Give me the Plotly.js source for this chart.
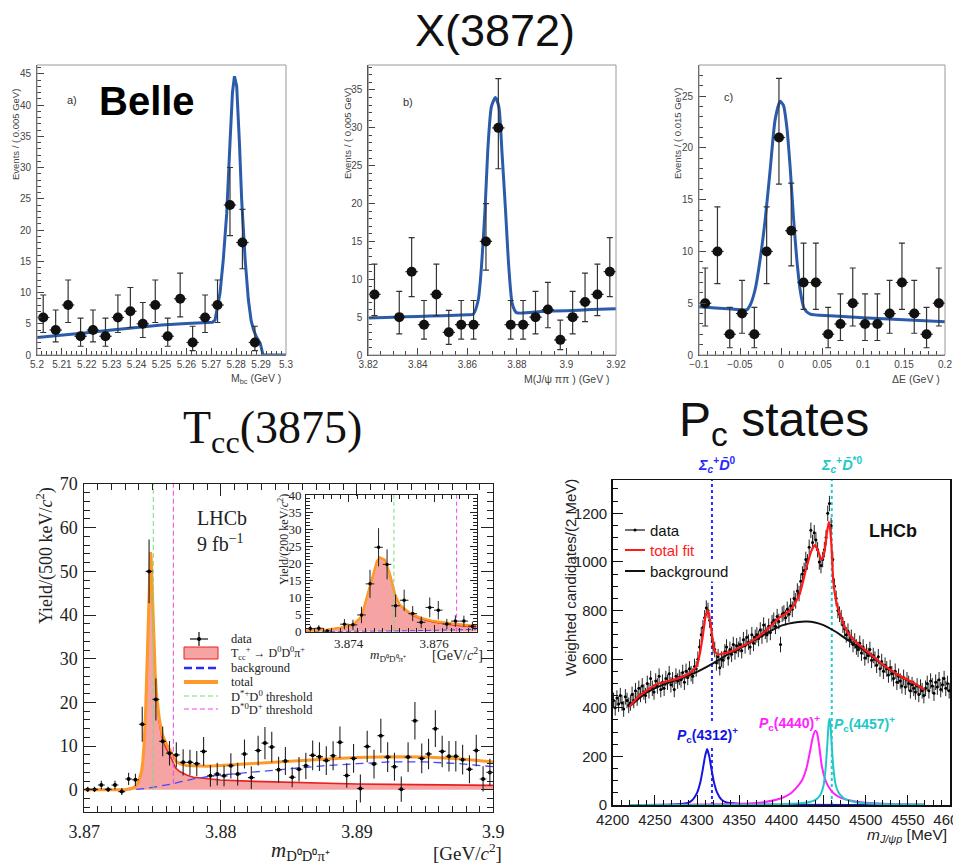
<!DOCTYPE html>
<html><head><meta charset="utf-8">
<script src="https://cdn.plot.ly/plotly-3.0.1.min.js"></script>
<style>html,body{margin:0;padding:0;background:#fff}#chart{width:953px;height:863px}</style>
</head><body><div id="chart"></div>
<script>
// ---------------- Belle panel a) Mbc ----------------
const aX=[5.2025,5.2075,5.2125,5.2175,5.2225,5.2275,5.2325,5.2375,5.2425,5.2475,5.2525,5.2575,5.2625,5.2675,5.2725,5.2775,5.2825,5.2875];
const aY=[6,4,8,3,4,3,6,7,5,8,3,9,2,6,8,24,18,2];
const aHi=[3.6,3.2,4.0,2.9,3.2,2.9,3.6,3.8,3.4,4.0,2.9,4.1,2.6,3.6,4.0,6.0,5.3,2.6];
const aLo=[2.4,1.9,2.8,1.6,1.9,1.6,2.4,2.6,2.2,2.8,1.6,2.9,1.3,2.4,2.8,4.9,4.2,1.3];
const aFitX=[5.200,5.210,5.220,5.230,5.240,5.250,5.260,5.2705,5.2715,5.2725,5.2735,5.2748,5.2762,5.2775,5.2785,5.2793,5.2802,5.2813,5.2822,5.2836,5.2849,5.2860,5.2870,5.2880,5.2889,5.2897,5.2903,5.2908,5.300];
const aFitY=[2.8,3.15,3.55,4.0,4.45,4.8,5.05,5.25,5.6,7.5,9.9,15.2,22.7,33.9,42,44.6,43,33.9,24.8,15.2,8.8,5.5,4.0,3.0,2.4,1.8,0.8,0,0];

// ---------------- Belle panel b) M(J/psi pi pi) ----------------
const bX=[3.8225,3.8325,3.8375,3.8425,3.8475,3.8525,3.8575,3.8625,3.8675,3.8725,3.8775,3.8825,3.8875,3.8925,3.8975,3.9025,3.9075,3.9125,3.9175];
const bY=[8,5,11,4,8,3,4,4,15,30,4,4,5,6,2,5,7,8,11];
const bHi=[4.0,3.4,4.5,3.2,4.0,2.9,3.2,3.2,5.0,6.5,3.2,3.2,3.4,3.6,2.6,3.4,3.8,4.0,4.5];
const bLo=[2.8,2.2,3.3,1.9,2.8,1.6,1.9,1.9,3.8,5.4,1.9,1.9,2.2,2.4,1.3,2.2,2.6,2.8,3.3];
const bFitX=[3.820,3.830,3.840,3.850,3.860,3.8624,3.8644,3.8657,3.8671,3.8684,3.8697,3.8713,3.8727,3.8740,3.8754,3.8767,3.8781,3.8798,3.890,3.900,3.910,3.920];
const bFitY=[4.9,5.0,5.1,5.2,5.3,5.4,7.3,11.7,19.1,27.9,32.8,34.0,32.8,26.6,19.1,11.7,6.8,5.6,5.75,5.85,6.0,6.1];

// ---------------- Belle panel c) Delta E ----------------
const cX=[-0.0925,-0.0775,-0.0625,-0.0475,-0.0325,-0.0175,-0.0025,0.0125,0.0275,0.0425,0.0575,0.0725,0.0875,0.1025,0.1175,0.1325,0.1475,0.1625,0.1775,0.1925];
const cY=[5,10,2,4,2,10,21,12,7,7,2,3,5,3,3,4,7,4,2,5];
const cHi=[3.4,4.3,2.6,3.2,2.6,4.3,5.7,4.6,3.8,3.8,2.6,2.9,3.4,2.9,2.9,3.2,3.8,3.2,2.6,3.4];
const cLo=[2.2,3.1,1.3,1.9,1.3,3.1,4.5,3.4,2.6,2.6,1.3,1.6,2.2,1.6,1.6,1.9,2.6,1.9,1.3,2.2];
const cFitX=[-0.100,-0.080,-0.060,-0.045,-0.0418,-0.0377,-0.0316,-0.0255,-0.0194,-0.0133,-0.0072,-0.0011,0.0030,0.0071,0.0111,0.0152,0.0193,0.0233,0.0282,0.0356,0.060,0.100,0.150,0.200];
const cFitY=[4.65,4.55,4.45,4.35,4.35,4.8,6.3,9.2,13.0,17.8,22.7,24.5,24.1,22.0,18.2,13.3,9.2,6.3,4.5,3.95,3.8,3.6,3.4,3.2];

// ---------------- LHCb Tcc main ----------------
const tX=[3.87025,3.87075,3.87125,3.87175,3.87225,3.87275,3.87325,3.87375,3.87425,3.87475,
3.87525,3.87575,3.87625,3.87675,3.87725,3.87775,3.87825,3.87875,3.87925,3.87975,
3.88025,3.88075,3.88125,3.88175,3.88225,3.88275,3.88325,3.88375,3.88425,3.88475,
3.88525,3.88575,3.88625,3.88675,3.88725,3.88775,3.88825,3.88875,3.88925,3.88975,
3.89025,3.89075,3.89125,3.89175,3.89225,3.89275,3.89325,3.89375,3.89425,3.89475,
3.89525,3.89575,3.89625,3.89675,3.89725,3.89775,3.89825,3.89875,3.89925,3.89975];
const tY=[0.1,0.1,1.1,0.1,1.1,-0.4,2.5,2.3,15.0,50.0,
20.7,11.1,8.4,8.0,6.3,6.3,6.0,8.8,3.2,3.6,
3.2,5.5,3.6,8.2,2.8,9.0,10.7,9.8,4.6,6.6,
2.9,4.7,5.5,7.9,7.6,6.7,7.8,10.9,3.3,7.2,
0.3,9.9,5.9,12.4,7.5,5.3,0.15,7.5,15.8,7.2,
8.2,14.0,8.8,7.7,7.7,6.9,4.7,9.0,2.5,4.0];
const tErr=[0.6,0.6,1.0,0.6,1.0,0.8,1.4,1.4,4.0,7.3,
4.8,3.4,2.8,2.9,3.0,2.9,2.9,3.3,2.5,2.6,
2.4,2.9,2.6,3.3,2.6,3.4,3.7,3.5,3.0,3.2,
2.3,2.8,3.0,3.4,3.3,3.3,3.3,3.6,2.8,3.3,
3.2,3.6,3.3,3.9,3.4,3.2,2.9,3.4,4.3,3.4,
3.5,4.2,3.6,3.5,3.5,3.4,3.2,3.6,2.9,3.1];
const tSigX=[3.870,3.8730,3.8735,3.8738,3.8740,3.8742,3.8743,3.8744,3.8745,3.8746,3.8747,3.8748,3.87485,3.8749,3.8750,3.8751,3.8752,3.8753,3.8755,3.8757,3.8760,3.8763,3.8765,3.8767,3.8770,3.8775,3.878,3.879,3.880,3.8825,3.885,3.8875,3.890,3.8925,3.895,3.8975,3.900];
const tSigY=[0,0.05,0.3,0.8,1.8,4,6.5,11,18,28,39,49,54,53,44,33,26,21,15.5,12,9.5,7.8,6.3,5.0,4.2,3.4,2.9,2.5,2.25,1.95,1.7,1.5,1.35,1.25,1.15,1.08,1.02];
const tBgX=[3.870,3.8735,3.8745,3.8755,3.8765,3.877,3.878,3.879,3.880,3.8825,3.885,3.8875,3.890,3.8925,3.895,3.8975,3.900];
const tBgY=[0,0.05,0.3,0.8,1.4,1.8,2.5,3.0,3.4,4.1,4.8,5.5,6.0,6.4,6.4,6.0,5.3];
const tTotX=[3.870,3.8730,3.8735,3.8738,3.8740,3.8742,3.8743,3.8744,3.8745,3.8746,3.8747,3.8748,3.87485,3.8749,3.8750,3.8751,3.8752,3.8753,3.8755,3.8757,3.8760,3.8763,3.8765,3.8767,3.8770,3.8775,3.878,3.879,3.880,3.8825,3.885,3.8875,3.890,3.8925,3.895,3.8975,3.900];
const tTotY=[0,0.05,0.35,0.9,2,4.2,6.8,11.3,18.3,28.3,39.4,49.4,54.4,53.5,44.5,33.6,26.6,21.7,16.3,12.9,10.6,9.0,7.7,6.6,6.0,5.6,5.5,5.4,5.6,6.1,6.6,7.0,7.4,7.6,7.5,7.1,6.4];
const thrDstpD0=3.87506, thrDst0Dp=3.87653;

// ---------------- LHCb Tcc inset ----------------
const iX=[3.8731,3.8733,3.8735,3.8739,3.8741,3.8743,3.8745,3.8747,3.8749,3.8751,3.8753,3.8755,3.8757,3.8759,3.8761,3.8763,3.8765,3.8767,3.8769];
const iY=[0.9,1.0,0.2,2.2,2.0,4.9,14.0,24.7,19.7,7.6,9.2,5.3,2.75,7.1,6.3,2.25,3.1,3.1,1.6];
const iErr=[0.9,0.9,0.5,1.5,1.5,2.4,4.1,5.6,4.4,3.3,3.1,2.2,1.7,2.9,2.7,1.5,1.7,1.6,1.3];
const iTotX=[3.873,3.8735,3.8739,3.87411,3.8743,3.87442,3.87454,3.87466,3.87473,3.87485,3.87497,3.87509,3.8752,3.87544,3.87567,3.87598,3.87645,3.877];
const iTotY=[0.3,0.6,1.3,2.15,4.4,9.8,15.6,20.5,21.7,21.0,16.6,10.7,7.8,5.4,4.1,3.1,2.3,1.7];
const iSigX=[3.873,3.8735,3.8739,3.87411,3.8743,3.87442,3.87454,3.87466,3.87473,3.87485,3.87497,3.87509,3.8752,3.87544,3.87567,3.87598,3.87645,3.877];
const iSigY=[0.3,0.6,1.3,2.15,4.4,9.8,15.6,20.5,21.7,21.0,16.6,10.7,7.7,5.1,3.8,2.8,1.9,1.3];
const iBgX=[3.873,3.874,3.875,3.876,3.877];
const iBgY=[0,0.05,0.2,0.4,0.7];

// ---------------- LHCb Pc states ----------------
const pcX=[4201,4203,4205,4207,4209,4211,4213,4215,4217,4219,
4221,4223,4225,4227,4229,4231,4233,4235,4237,4239,
4241,4243,4245,4247,4249,4251,4253,4255,4257,4259,
4261,4263,4265,4267,4269,4271,4273,4275,4277,4279,
4281,4283,4285,4287,4289,4291,4293,4295,4297,4299,
4301,4303,4305,4307,4309,4311,4313,4315,4317,4319,
4321,4323,4325,4327,4329,4331,4333,4335,4337,4339,
4341,4343,4345,4347,4349,4351,4353,4355,4357,4359,
4361,4363,4365,4367,4369,4371,4373,4375,4377,4379,
4381,4383,4385,4387,4389,4391,4393,4395,4397,4399,
4401,4403,4405,4407,4409,4411,4413,4415,4417,4419,
4421,4423,4425,4427,4429,4431,4433,4435,4437,4439,
4441,4443,4445,4447,4449,4451,4453,4455,4457,4459,
4461,4463,4465,4467,4469,4471,4473,4475,4477,4479,
4481,4483,4485,4487,4489,4491,4493,4495,4497,4499,
4501,4503,4505,4507,4509,4511,4513,4515,4517,4519,
4521,4523,4525,4527,4529,4531,4533,4535,4537,4539,
4541,4543,4545,4547,4549,4551,4553,4555,4557,4559,
4561,4563,4565,4567,4569,4571,4573,4575,4577,4579,
4581,4583,4585,4587,4589,4591,4593,4595,4597,4599];
const pcY=[430,400,440,415,450,420,395,445,430,410,
420,455,430,470,440,480,455,490,465,450,
500,470,520,480,465,510,490,530,475,505,
480,520,505,540,495,515,475,530,510,525,
515,545,505,550,525,560,540,530,570,560,
600,650,700,730,770,810,800,760,700,655,
640,585,610,565,600,595,630,650,605,640,
620,660,630,655,640,660,635,680,655,690,
670,650,700,665,690,700,685,720,695,740,
715,700,735,710,750,760,735,775,755,660,
785,790,770,805,785,820,805,850,840,880,
870,920,950,965,1010,1000,1060,1130,1080,1120,
1090,1050,1000,985,1010,1050,1100,1200,1240,1150,
1010,900,850,800,785,770,740,725,700,715,
680,690,660,675,650,640,665,625,650,605,
630,615,640,595,615,600,575,610,560,590,
550,575,560,535,565,540,520,550,505,530,
510,490,525,485,515,500,470,495,480,465,
490,455,485,470,450,480,500,470,510,490,
460,505,485,515,475,495,520,480,500,470];
const pcErr=32;
const pcFitX=[4220,4230,4240,4250,4260,4270,4280,4290,4295,4300,4303.5,4307,4310,4313,4316.6,4319.6,4322,4325.5,4330,4341,4350,4365,4380,4398,4405,4414,4422,4430,4436,4439.8,4443,4447.6,4451,4454,4456.3,4458,4459.5,4461.5,4465.5,4469,4477,4485,4490,4500,4520,4540,4560,4570];
const pcFitY=[405,445,470,493,505,513,524,540,552,575,625,700,775,802,734,651,628,619,622,632,647,674,712,772,786,816,871,980,1049,1069,1050,1008,1040,1120,1165,1130,1063,925,830,789,720,682,666,636,579,533,496,474];
const pcBgX=[4220,4240,4260,4280,4300,4320,4340,4360,4380,4400,4420,4430,4440,4450,4460,4470,4480,4490,4500,4520,4540,4560,4570];
const pcBgY=[405,462,495,520,548,585,627,662,702,738,753,755,751,740,722,700,676,655,632,577,531,495,473];
const pc4312X=[4220,4270,4290,4295,4300,4304,4307,4309.5,4312,4314.5,4317,4320,4324,4329,4335,4360,4570];
const pc4312Y=[0,2,10,22,50,95,150,200,230,200,150,95,50,22,10,3,0];
const pc4440X=[4220,4340,4380,4400,4410,4420,4425,4430,4434,4437,4440,4442,4445,4448,4452,4456,4462,4470,4480,4500,4530,4570];
const pc4440Y=[0,4,12,28,45,80,105,154,220,275,305,300,240,160,105,75,48,30,20,9,4,2];
const pc4457X=[4220,4400,4430,4440,4446,4450,4452.5,4454.5,4456,4457,4458,4459.5,4461.5,4464,4468,4475,4490,4520,4570];
const pc4457Y=[0,3,10,20,40,80,150,250,330,355,340,260,160,90,50,25,10,4,2];
const thrScD0=4317.7, thrScDst0=4459.8;

// ---------------- helpers (positions/styles) ----------------
const W=953,H=863;
const PX=v=>v/W, PY=v=>1-v/H;
const SANS='Liberation Sans, Arial, Helvetica, sans-serif';
const SERIF='Liberation Serif, Times New Roman, serif';
const BELLEBLUE='#2b5cab';

function topX(dom,range,dtick,minor){
  return {domain:[PX(dom[0]),PX(dom[1])],range:range,dtick:dtick,tick0:range[0],ticks:'inside',ticklen:7,tickcolor:'#444',
    showline:true,linecolor:'#444',linewidth:1,showgrid:false,zeroline:false,
    tickfont:{family:SANS,size:10,color:'#444'},minor:{dtick:minor,ticks:'inside',ticklen:4,tickcolor:'#444'}};
}
function topY(dom,range){
  return {domain:[PY(dom[1]),PY(dom[0])],range:range,dtick:5,tick0:0,ticks:'inside',ticklen:7,tickcolor:'#444',
    showline:true,linecolor:'#444',linewidth:1,showgrid:false,zeroline:false,ticklabelstandoff:3,
    tickfont:{family:SANS,size:10,color:'#444'},minor:{dtick:1,ticks:'inside',ticklen:4,tickcolor:'#444'}};
}
function belle(x,y,hi,lo,fx,fy,xa,ya,hw,shape){
  return [
    {x:fx,y:fy,xaxis:xa,yaxis:ya,mode:'lines',line:{color:BELLEBLUE,width:3,shape:shape,smoothing:0.6},hoverinfo:'skip'},
    {x:x,y:y,xaxis:xa,yaxis:ya,mode:'markers',marker:{color:'#111',size:10},
     error_y:{type:'data',symmetric:false,array:hi,arrayminus:lo,color:'#333',thickness:1.2,width:3},
     error_x:{type:'constant',value:hw,color:'#333',thickness:1.2,width:0},hoverinfo:'skip'}
  ];
}

const traces=[]
  .concat(belle(aX,aY,aHi,aLo,aFitX,aFitY,'x','y',0.0025,'linear'))
  .concat(belle(bX,bY,bHi,bLo,bFitX,bFitY,'x2','y2',0.0025,'spline'))
  .concat(belle(cX,cY,cHi,cLo,cFitX,cFitY,'x3','y3',0.0075,'spline'));

// Tcc main
traces.push({x:tSigX,y:tSigY,xaxis:'x4',yaxis:'y4',mode:'lines',fill:'tozeroy',fillcolor:'rgba(243,140,140,0.8)',line:{color:'#e8201f',width:1.6}});
traces.push({x:tBgX,y:tBgY,xaxis:'x4',yaxis:'y4',mode:'lines',line:{color:'#4848ff',width:1.3,dash:'8px,5px'}});
traces.push({x:tTotX,y:tTotY,xaxis:'x4',yaxis:'y4',mode:'lines',line:{color:'#ff9a28',width:3}});
traces.push({x:[thrDstpD0,thrDstpD0],y:[0,70],xaxis:'x4',yaxis:'y4',mode:'lines',line:{color:'#77dd77',width:1,dash:'5px,3px'}});
traces.push({x:[thrDst0Dp,thrDst0Dp],y:[1.4,70],xaxis:'x4',yaxis:'y4',mode:'lines',line:{color:'#ee44ee',width:1,dash:'5px,3px'}});
traces.push({x:tX,y:tY,xaxis:'x4',yaxis:'y4',mode:'markers',marker:{color:'#000',size:4},
  error_y:{type:'data',array:tErr,color:'#222',thickness:1.1,width:0},
  error_x:{type:'constant',value:0.00025,color:'#222',thickness:1.1,width:0}});
// Tcc inset
traces.push({x:iSigX,y:iSigY,xaxis:'x5',yaxis:'y5',mode:'lines',fill:'tozeroy',fillcolor:'rgba(243,140,140,0.8)',line:{color:'#e8201f',width:1.3}});
traces.push({x:iBgX,y:iBgY,xaxis:'x5',yaxis:'y5',mode:'lines',line:{color:'#4848ff',width:1,dash:'5px,3px'}});
traces.push({x:iTotX,y:iTotY,xaxis:'x5',yaxis:'y5',mode:'lines',line:{color:'#ff9a28',width:2.5}});
traces.push({x:[thrDstpD0,thrDstpD0],y:[0,40],xaxis:'x5',yaxis:'y5',mode:'lines',line:{color:'#77dd77',width:1,dash:'4px,3px'}});
traces.push({x:[thrDst0Dp,thrDst0Dp],y:[0,40],xaxis:'x5',yaxis:'y5',mode:'lines',line:{color:'#ee44ee',width:1,dash:'4px,3px'}});
traces.push({x:iX,y:iY,xaxis:'x5',yaxis:'y5',mode:'markers',marker:{color:'#000',size:3.5},
  error_y:{type:'data',array:iErr,color:'#222',thickness:1,width:0},
  error_x:{type:'constant',value:0.0001,color:'#222',thickness:1,width:0}});
// Pc
traces.push({x:[thrScD0,thrScD0],y:[0,1337],xaxis:'x6',yaxis:'y6',mode:'lines',line:{color:'#2a2aff',width:2,dash:'dot'}});
traces.push({x:[thrScDst0,thrScDst0],y:[0,1337],xaxis:'x6',yaxis:'y6',mode:'lines',line:{color:'#22cccc',width:2,dash:'dot'}});
traces.push({x:pc4312X,y:pc4312Y,xaxis:'x6',yaxis:'y6',mode:'lines',line:{color:'#1515e0',width:2,shape:'spline',smoothing:0.5}});
traces.push({x:pc4440X,y:pc4440Y,xaxis:'x6',yaxis:'y6',mode:'lines',line:{color:'#ff22ff',width:2,shape:'spline',smoothing:0.5}});
traces.push({x:pc4457X,y:pc4457Y,xaxis:'x6',yaxis:'y6',mode:'lines',line:{color:'#22c8c8',width:2,shape:'spline',smoothing:0.5}});
traces.push({x:pcX,y:pcY,xaxis:'x6',yaxis:'y6',mode:'markers',marker:{color:'#000',size:3},
  error_y:{type:'constant',value:pcErr,color:'#222',thickness:1,width:0},
  error_x:{type:'constant',value:1,color:'#222',thickness:1,width:0}});
traces.push({x:pcBgX,y:pcBgY,xaxis:'x6',yaxis:'y6',mode:'lines',line:{color:'#111',width:2,shape:'spline',smoothing:0.6}});
traces.push({x:pcFitX,y:pcFitY,xaxis:'x6',yaxis:'y6',mode:'lines',line:{color:'#ff1a1a',width:2.2,shape:'spline',smoothing:0.4}});

function ann(text,x,y,font,o){return Object.assign({text:text,x:PX(x),y:PY(y),xref:'paper',yref:'paper',showarrow:false,xanchor:'center',yanchor:'middle',font:font},o||{});}
const annotations=[
  ann('X(3872)',495,31,{family:SANS,size:45,color:'#111'}),
  ann('<b>Belle</b>',147,101,{family:SANS,size:40,color:'#000'}),
  ann('a)',72,100,{family:SANS,size:11,color:'#333'}),
  ann('b)',408,102,{family:SANS,size:11,color:'#333'}),
  ann('c)',728,97,{family:SANS,size:11,color:'#333'}),
  ann('Events / ( 0.005 GeV)',16,135,{family:SANS,size:9.5,color:'#444'},{textangle:-90}),
  ann('Events / ( 0.005 GeV)',347,134,{family:SANS,size:9.5,color:'#444'},{textangle:-90}),
  ann('Events / ( 0.015 GeV)',677,134,{family:SANS,size:9.5,color:'#444'},{textangle:-90}),
  ann('M<sub>bc</sub> (GeV )',283,379,{family:SANS,size:10.5,color:'#444'},{xanchor:'right'}),
  ann('M(J/ψ ππ ) (GeV )',612,379,{family:SANS,size:10.5,color:'#444'},{xanchor:'right'}),
  ann('ΔE (GeV )',942,379,{family:SANS,size:10.5,color:'#444'},{xanchor:'right'}),
  ann('T<sub>cc</sub>(3875)',272,431,{family:SERIF,size:46,color:'#111'}),
  ann('P<sub>c</sub> states',774,423,{family:SANS,size:48,color:'#111'}),
  // Tcc main texts
  ann('Yield/(500 keV/<i>c</i><sup>2</sup>)',45,556,{family:SERIF,size:18,color:'#222'},{textangle:-90}),
  ann('<i>m</i><sub>D⁰D⁰π⁺</sub>',300,851,{family:SERIF,size:21,color:'#222'}),
  ann('[GeV/<i>c</i><sup>2</sup>]',467,852,{family:SERIF,size:19,color:'#222'}),
  ann('LHCb',222,518,{family:SERIF,size:20,color:'#222'}),
  ann('9 fb<sup>−1</sup>',220,543,{family:SERIF,size:20,color:'#222'}),
  ann('data',229,639,{family:SERIF,size:12.5,color:'#222'},{xanchor:'left'}),
  ann('T<sub>cc</sub><sup>+</sup> → D<sup>0</sup>D<sup>0</sup>π<sup>+</sup>',229,653,{family:SERIF,size:12,color:'#222'},{xanchor:'left'}),
  ann('background',229,668,{family:SERIF,size:12.5,color:'#222'},{xanchor:'left'}),
  ann('total',229,682,{family:SERIF,size:12.5,color:'#222'},{xanchor:'left'}),
  ann('D<sup>*+</sup>D<sup>0</sup> threshold',229,696,{family:SERIF,size:12.5,color:'#222'},{xanchor:'left'}),
  ann('D<sup>*0</sup>D<sup>+</sup> threshold',229,709,{family:SERIF,size:12.5,color:'#222'},{xanchor:'left'}),
  // inset texts
  ann('Yield/(200 keV/<i>c</i><sup>2</sup>)',283,540,{family:SERIF,size:12,color:'#222'},{textangle:-90}),
  ann('<i>m</i><sub>D⁰D⁰π⁺</sub>',388,655,{family:SERIF,size:13,color:'#222'}),
  ann('[GeV/<i>c</i><sup>2</sup>]',457,654,{family:SERIF,size:14,color:'#222'}),
  // Pc texts
  ann('Weighted candidates/(2 MeV)',570,578,{family:SANS,size:15,color:'#222'},{textangle:-90}),
  ann('<i>m</i><sub><i>J/ψp</i></sub> [MeV]',949,835,{family:SANS,size:15.5,color:'#222'},{xanchor:'right'}),
  ann('<b>LHCb</b>',893,531,{family:SANS,size:18,color:'#111'}),
  ann('data',648,530,{family:SANS,size:15,color:'#111'},{xanchor:'left'}),
  ann('total fit',648,550,{family:SANS,size:15,color:'#ff1a1a'},{xanchor:'left'}),
  ann('background',648,571,{family:SANS,size:15,color:'#111'},{xanchor:'left',bgcolor:'#fff'}),
  ann('<b><i>P</i><sub>c</sub>(4312)<sup>+</sup></b>',707,735,{family:SANS,size:14,color:'#1515e0'},{bgcolor:'#fff'}),
  ann('<b><i>P</i><sub>c</sub>(4440)<sup>+</sup></b>',789,723,{family:SANS,size:14,color:'#ff22ff'}),
  ann('<b><i>P</i><sub>c</sub>(4457)<sup>+</sup></b>',864,724,{family:SANS,size:14,color:'#22c8c8'}),
  ann('<b><i>Σ</i><sub><i>c</i></sub><sup>+</sup><i>D̄</i><sup>0</sup></b>',717,465,{family:SANS,size:14.5,color:'#2a2aff'}),
  ann('<b><i>Σ</i><sub><i>c</i></sub><sup>+</sup><i>D̄</i><sup>*0</sup></b>',842,465,{family:SANS,size:14.5,color:'#22c8c8'})
];

function pline(x0,y0,x1,y1,line){return {type:'line',xref:'paper',yref:'paper',x0:PX(x0),y0:PY(y0),x1:PX(x1),y1:PY(y1),line:line};}
const shapes=[
  {type:'rect',xref:'x domain',yref:'y domain',x0:0,x1:1,y0:0,y1:1,line:{color:'#999',width:1}},
  {type:'rect',xref:'x2 domain',yref:'y2 domain',x0:0,x1:1,y0:0,y1:1,line:{color:'#999',width:1}},
  {type:'rect',xref:'x3 domain',yref:'y3 domain',x0:0,x1:1,y0:0,y1:1,line:{color:'#999',width:1}},
  // Tcc legend symbols
  pline(190,639,208,639,{color:'#111',width:1.2}),
  pline(199,632,199,646,{color:'#111',width:1.2}),
  {type:'circle',xref:'paper',yref:'paper',x0:PX(197),x1:PX(201),y0:PY(641),y1:PY(637),fillcolor:'#000',line:{width:0}},
  {type:'rect',xref:'paper',yref:'paper',x0:PX(184),x1:PX(218),y0:PY(659),y1:PY(647),fillcolor:'rgba(243,140,140,0.8)',line:{color:'#e8201f',width:1}},
  pline(184,668,218,668,{color:'#2a2aff',width:2.5,dash:'8px,4px'}),
  pline(184,682,218,682,{color:'#ff9a28',width:4}),
  pline(184,696,218,696,{color:'#77dd77',width:1,dash:'5px,3px'}),
  pline(184,709,218,709,{color:'#ee44ee',width:1,dash:'5px,3px'}),
  // Pc legend symbols
  pline(625,530,645,530,{color:'#111',width:1.2}),
  {type:'circle',xref:'paper',yref:'paper',x0:PX(633.5),x1:PX(636.5),y0:PY(531.5),y1:PY(528.5),fillcolor:'#000',line:{width:0}},
  pline(625,550,645,550,{color:'#ff1a1a',width:2}),
  pline(625,571,645,571,{color:'#111',width:2})
];

const tccX={ticks:'inside',mirror:'allticks',showline:true,linecolor:'#222',linewidth:1,tickcolor:'#222',showgrid:false,zeroline:false};
const layout={
  width:W,height:H,margin:{l:0,r:0,t:0,b:0},paper_bgcolor:'#fff',plot_bgcolor:'rgba(0,0,0,0)',showlegend:false,
  xaxis:Object.assign(topX([37,286],[5.2,5.3],0.01,0.002),{anchor:'y'}),
  yaxis:Object.assign(topY([65,355],[0,46.4]),{anchor:'x'}),
  xaxis2:Object.assign(topX([368.3,616],[3.82,3.92],0.02,0.005),{anchor:'y2'}),
  yaxis2:Object.assign(topY([65,355],[0,38.3]),{anchor:'x2'}),
  xaxis3:Object.assign(topX([699,945],[-0.1,0.2],0.05,0.01),{anchor:'y3'}),
  yaxis3:Object.assign(topY([65,355],[0,28]),{anchor:'x3'}),
  xaxis4:Object.assign({},tccX,{domain:[PX(84.3),PX(493.3)],anchor:'y4',range:[3.87,3.9],dtick:0.01,tick0:3.87,ticklen:12,ticklabelstandoff:4,
    tickfont:{family:SERIF,size:18,color:'#222'},minor:{dtick:0.001,ticks:'inside',ticklen:6,tickcolor:'#222'}}),
  yaxis4:Object.assign({},tccX,{domain:[PY(811.7),PY(484)],anchor:'x4',range:[-5,70],dtick:10,tick0:0,ticklen:12,ticklabelstandoff:2,
    tickfont:{family:SERIF,size:18,color:'#222'},minor:{dtick:2,ticks:'inside',ticklen:6,tickcolor:'#222'}}),
  xaxis5:Object.assign({},tccX,{domain:[PX(306),PX(476.7)],anchor:'y5',range:[3.873,3.877],tickvals:[3.873,3.874,3.875,3.876,3.877],ticktext:['','3.874','','3.876',''],ticklen:7,
    tickfont:{family:SERIF,size:13,color:'#222'},minor:{dtick:0.0002,ticks:'inside',ticklen:3.5,tickcolor:'#222'}}),
  yaxis5:Object.assign({},tccX,{domain:[PY(631.7),PY(495)],anchor:'x5',range:[0,40],dtick:5,tick0:0,ticklen:7,ticklabelstandoff:1,
    tickfont:{family:SERIF,size:13,color:'#222'},minor:{dtick:1,ticks:'inside',ticklen:3.5,tickcolor:'#222'}}),
  xaxis6:{domain:[PX(612.7),PX(950)],anchor:'y6',range:[4200,4600],dtick:50,tick0:4200,ticks:'inside',ticklen:10,tickcolor:'#111',
    showline:true,mirror:true,linecolor:'#111',linewidth:1.5,showgrid:false,zeroline:false,ticklabeloverflow:'allow',
    tickfont:{family:SANS,size:15,color:'#222'},minor:{dtick:10,ticks:'inside',ticklen:5,tickcolor:'#111'}},
  yaxis6:{domain:[PY(805),PY(480)],anchor:'x6',range:[0,1337],dtick:200,tick0:0,ticks:'inside',ticklen:10,tickcolor:'#111',
    showline:true,mirror:true,linecolor:'#111',linewidth:1.5,showgrid:false,zeroline:false,ticklabelstandoff:1,
    tickfont:{family:SANS,size:15,color:'#222'},minor:{dtick:50,ticks:'inside',ticklen:5,tickcolor:'#111'}},
  annotations:annotations,shapes:shapes
};
traces.forEach(t=>{t.hoverinfo='skip';t.showlegend=false;});
Plotly.newPlot('chart',traces,layout,{staticPlot:true,displayModeBar:false});
</script></body></html>
